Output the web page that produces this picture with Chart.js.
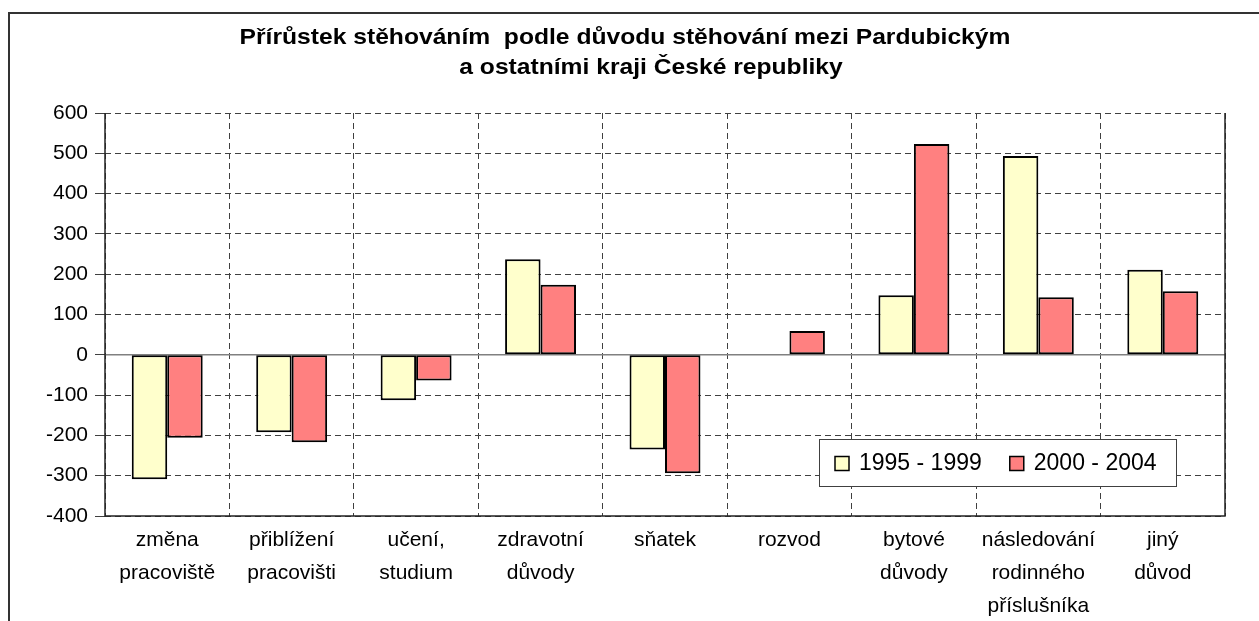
<!DOCTYPE html>
<html>
<head>
<meta charset="utf-8">
<script src="https://cdn.jsdelivr.net/npm/chart.js@4/dist/chart.umd.min.js"></script>
<style>
  html, body { margin: 0; padding: 0; background: #fff; }
  #wrap { width: 1259px; height: 621px; }
</style>
</head>
<body>
<div id="wrap"><canvas id="migChart" width="1259" height="621"></canvas></div>
<script>
// categories (multi-line labels as in the original)
var categories = [
  ["změna", "pracoviště"],
  ["přiblížení", "pracovišti"],
  ["učení,", "studium"],
  ["zdravotní", "důvody"],
  ["sňatek"],
  ["rozvod"],
  ["bytové", "důvody"],
  ["následování", "rodinného", "příslušníka"],
  ["jiný", "důvod"]
];
// series values
var values1995 = [-309, -192, -113, 237, -235, 0, 148, 493, 211];
var values2000 = [-206, -217, -64, 174, -294, 59, 523, 143, 158];
var seriesNames = ["1995 - 1999", "2000 - 2004"];
var yTicks = { min: -400, max: 600, step: 100 };
var titleLines = ["Přírůstek stěhováním  podle důvodu stěhování mezi Pardubickým", "a ostatními kraji České republiky"];

var FONT = "'Liberation Sans', Arial, sans-serif";

//white page + outer chart frame (left and top edges only are visible) + title
var framePlugin = {
  id: "frame",
  beforeDraw: function (chart) {
    var ctx = chart.ctx;
    ctx.save();
    ctx.fillStyle = "#fff";
    ctx.fillRect(0, 0, chart.width, chart.height);
    ctx.strokeStyle = "#333";
    ctx.lineWidth = 2;
    ctx.beginPath();
    ctx.moveTo(9, chart.height);
    ctx.lineTo(9, 13);
    ctx.lineTo(chart.width, 13);
    ctx.stroke();

    // title, the original font is a bit wider than Liberation Sans Bold
    ctx.fillStyle = "#000";
    ctx.font = "bold 22px " + FONT;
    ctx.textAlign = "center";
    ctx.textBaseline = "alphabetic";
    var centers = [625, 651], baselines = [44, 74];
    titleLines.forEach(function (t, i) {
      ctx.save();
      ctx.translate(centers[i], baselines[i]);
      ctx.scale(1.12, 1);
      ctx.fillText(t, 0, 0);
      ctx.restore();
    });
    ctx.restore();
  }
};

// zero line + solid plot edges (left, bottom, right)
var axisLinesPlugin = {
  id: "axisLines",
  beforeDatasetsDraw: function (chart) {
    var ctx = chart.ctx, a = chart.chartArea;
    var y0 = chart.scales.y.getPixelForValue(0);
    ctx.save();
    ctx.strokeStyle = "#808080";
    ctx.lineWidth = 1.5;
    ctx.beginPath();
    ctx.moveTo(a.left, y0);
    ctx.lineTo(a.right, y0);
    ctx.stroke();
    ctx.strokeStyle = "#222";
    ctx.lineWidth = 1.5;
    ctx.beginPath();
    ctx.moveTo(a.left, a.top);
    ctx.lineTo(a.left, a.bottom);
    ctx.lineTo(a.right, a.bottom);
    ctx.lineTo(a.right, a.top);
    ctx.stroke();
    ctx.restore();
  }
};

// legend box inside the plot, lower right
var boxLegendPlugin = {
  id: "boxLegend",
  afterDraw: function (chart) {
    var ctx = chart.ctx, a = chart.chartArea;
    var left = a.right - 406, top = a.bottom - 77, w = 357, h = 47;
    ctx.save();
    ctx.fillStyle = "#fff";
    ctx.fillRect(left, top, w, h);
    ctx.strokeStyle = "#404040";
    ctx.lineWidth = 1;
    ctx.strokeRect(left + 0.5, top + 0.5, w, h);
    ctx.font = "23px " + FONT;
    ctx.textBaseline = "middle";
    ctx.fillStyle = "#000";
    var x = left + 16, cy = top + h / 2 + 1;
    chart.data.datasets.forEach(function (ds) {
      ctx.fillStyle = ds.backgroundColor;
      ctx.fillRect(x, cy - 7, 14, 14);
      ctx.strokeStyle = "#000";
      ctx.lineWidth = 1.5;
      ctx.strokeRect(x, cy - 7, 14, 14);
      ctx.fillStyle = "#000";
      ctx.fillText(ds.label, x + 24, cy);
      x += 24 + ctx.measureText(ds.label).width + 28;
    });
    ctx.restore();
  }
};

var ctx = document.getElementById("migChart").getContext("2d");
var chart = new Chart(ctx, {
  type: "bar",
  data: {
    labels: categories,
    datasets: [{
      label: seriesNames[0],
      data: values1995,
      backgroundColor: "#FFFFCC",
      borderColor: "#000",
      borderWidth: function (c) { return c.raw === 0 ? 0 : 2; },
      borderSkipped: false,
      categoryPercentage: 0.57,
      barPercentage: 1
    }, {
      label: seriesNames[1],
      data: values2000,
      backgroundColor: "#FF8080",
      borderColor: "#000",
      borderWidth: function (c) { return c.raw === 0 ? 0 : 2; },
      borderSkipped: false,
      categoryPercentage: 0.57,
      barPercentage: 1
    }]
  },
  options: {
    responsive: false,
    animation: false,
    layout: { padding: { left: 0, right: 34, top: 113, bottom: 0 } },
    plugins: {
      legend: { display: false },
      tooltip: { enabled: false },
      title: { display: false }
    },
    scales: {
      x: {
        afterFit: function (s) { s.height = 105; },
        grid: { offset: true, color: "#404040", lineWidth: 1, drawTicks: false },
        border: { display: false, dash: [6, 4] },
        ticks: {
          color: "#000",
          padding: 8,
          maxRotation: 0,
          autoSkip: false,
          font: { family: FONT, size: 21, lineHeight: 1.57 }
        }
      },
      y: {
        min: yTicks.min,
        max: yTicks.max,
        afterFit: function (s) { s.width = 105; },
        grid: { color: "#404040", lineWidth: 1, tickLength: 10, tickColor: "#404040", tickBorderDash: [] },
        border: { display: false, dash: [6, 4] },
        ticks: {
          stepSize: yTicks.step,
          color: "#000",
          padding: 7,
          font: { family: FONT, size: 21 }
        }
      }
    }
  },
  plugins: [framePlugin, axisLinesPlugin, boxLegendPlugin]
});
</script>
</body>
</html>
